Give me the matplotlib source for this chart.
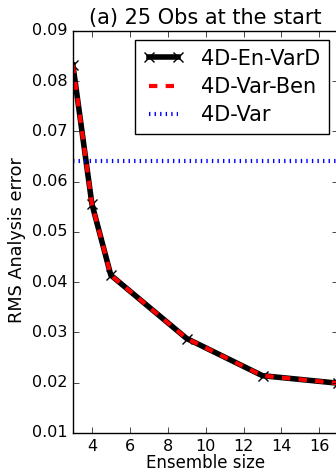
import matplotlib
matplotlib.use('Agg')
import matplotlib.pyplot as plt
import numpy as np

plt.style.use('classic')

ens_size = [3, 4, 5, 9, 13, 17]
rms_envard = [0.0832, 0.0556, 0.0414, 0.0288, 0.0214, 0.0199]
rms_varben = [0.0832, 0.0556, 0.0414, 0.0288, 0.0214, 0.0199]
rms_4dvar = 0.0641

fig = plt.figure(figsize=(3.36, 4.73), dpi=100, facecolor='white')
ax = fig.add_axes([0.217, 0.0846, 0.79, 0.85])

ax.plot(ens_size, rms_envard, 'k-x', lw=4, ms=7, mew=1, label='4D-En-VarD')
ax.plot(ens_size, rms_varben, 'r--', lw=3, label='4D-Var-Ben')
ax.axhline(rms_4dvar, color='b', ls=':', lw=3, label='4D-Var')

ax.set_xlim(3, 17)
ax.set_ylim(0.01, 0.09)
ax.set_xticks(np.arange(4, 17, 2))
ax.set_yticks(np.arange(0.01, 0.0901, 0.01))
ax.tick_params(labelsize=11.5)
ax.set_xlabel('Ensemble size', fontsize=12, labelpad=0)
ax.set_ylabel('RMS Analysis error', fontsize=12.7)
ax.yaxis.set_label_coords(-0.177, 0.48)
ax.set_title('(a) 25 Obs at the start', fontsize=15)
ax.legend(loc='upper right', fontsize=15, numpoints=2, labelspacing=0.4,
          borderaxespad=0.45)

fig.savefig('out.png', dpi=100, facecolor='white')
